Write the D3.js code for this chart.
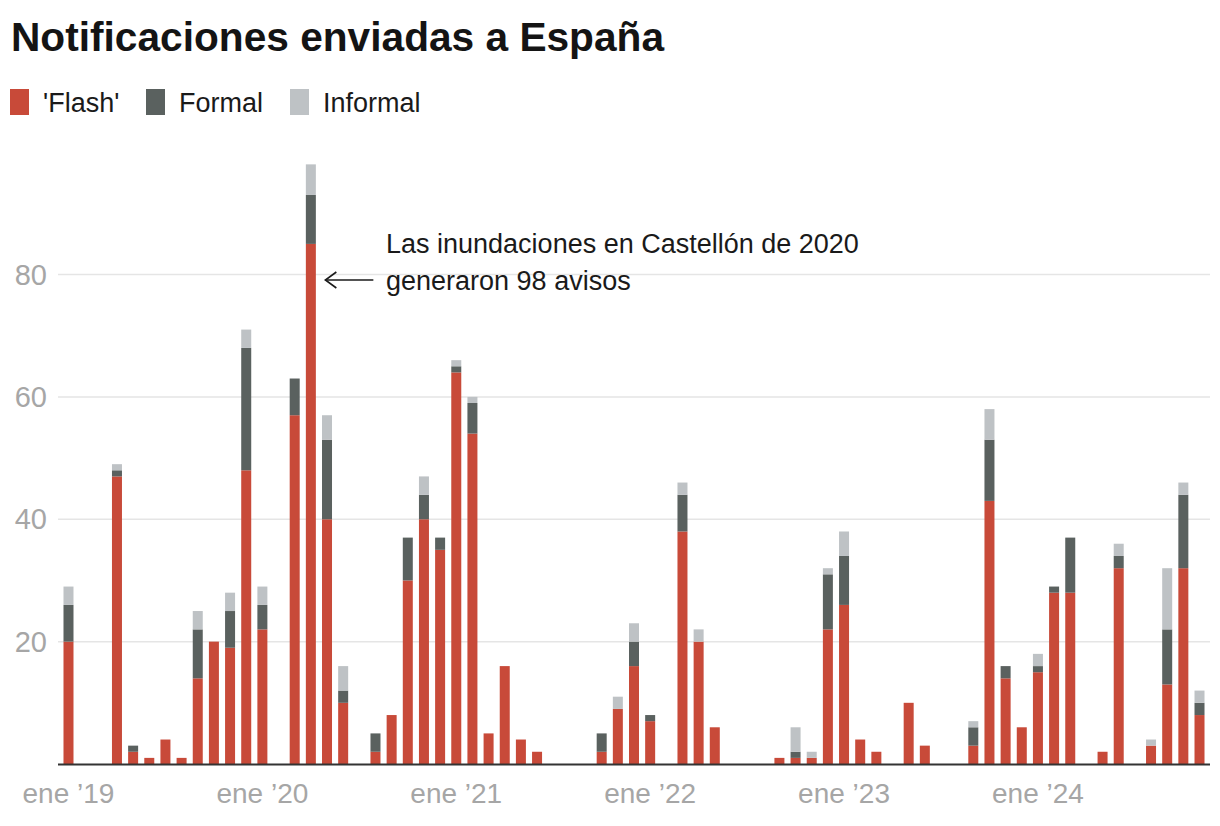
<!DOCTYPE html>
<html>
<head>
<meta charset="utf-8">
<script src="https://cdn.jsdelivr.net/npm/d3@7"></script>
<style>
  html, body { margin: 0; padding: 0; background: #fff; }
  svg { display: block; }
</style>
</head>
<body>
<svg id="chart" width="1220" height="826"></svg>
<script>
// Months Jan 2019 – Nov 2024
const months = d3.range(71).map(i => {
  const y = 2019 + Math.floor(i / 12), m = i % 12;
  return `${y}-${String(m + 1).padStart(2, "0")}`;
});

const flash = [
  20, 0, 0, 47, 2, 1, 4, 1, 14, 20, 19, 48,
  22, 0, 57, 85, 40, 10, 0, 2, 8, 30, 40, 35,
  64, 54, 5, 16, 4, 2, 0, 0, 0, 2, 9, 16,
  7, 0, 38, 20, 6, 0, 0, 0, 1, 1, 1, 22,
  26, 4, 2, 0, 10, 3, 0, 0, 3, 43, 14, 6,
  15, 28, 28, 0, 2, 32, 0, 3, 13, 32, 8
];
const formal = [
  6, 0, 0, 1, 1, 0, 0, 0, 8, 0, 6, 20,
  4, 0, 6, 8, 13, 2, 0, 3, 0, 7, 4, 2,
  1, 5, 0, 0, 0, 0, 0, 0, 0, 3, 0, 4,
  1, 0, 6, 0, 0, 0, 0, 0, 0, 1, 0, 9,
  8, 0, 0, 0, 0, 0, 0, 0, 3, 10, 2, 0,
  1, 1, 9, 0, 0, 2, 0, 0, 9, 12, 2
];
const informal = [
  3, 0, 0, 1, 0, 0, 0, 0, 3, 0, 3, 3,
  3, 0, 0, 5, 4, 4, 0, 0, 0, 0, 3, 0,
  1, 1, 0, 0, 0, 0, 0, 0, 0, 0, 2, 3,
  0, 0, 2, 2, 0, 0, 0, 0, 0, 4, 1, 1,
  4, 0, 0, 0, 0, 0, 0, 0, 1, 5, 0, 0,
  2, 0, 0, 0, 0, 2, 0, 1, 10, 2, 2
];

const seriesKeys = ["flash", "formal", "informal"];
const seriesNames = ["'Flash'", "Formal", "Informal"];
const seriesColors = ["#c84a39", "#5a615f", "#bec2c5"];

const yTicks = [20, 40, 60, 80];
const xTickMonths = ["2019-01", "2020-01", "2021-01", "2022-01", "2023-01", "2024-01"];
const xTickLabels = ["ene ’19", "ene ’20", "ene ’21", "ene ’22", "ene ’23", "ene ’24"];

const titleText = "Notificaciones enviadas a España";
const noteLines = ["Las inundaciones en Castellón de 2020", "generaron 98 avisos"];
const noteMonth = "2020-04";

// ---- build table
const table = months.map((m, i) => ({ month: m, flash: flash[i], formal: formal[i], informal: informal[i] }));
const stacked = d3.stack().keys(seriesKeys)(table);

const svg = d3.select("#chart");
const font = "'Liberation Sans', Arial, sans-serif";

const x = d3.scaleBand().domain(months).range([58, 1210]).paddingInner(0.381).paddingOuter(0.34);
const y = d3.scaleLinear().domain([0, 80]).range([764, 274.5]);

// gridlines
svg.append("g").selectAll("line").data(yTicks).join("line")
  .attr("x1", 58).attr("x2", 1210)
  .attr("y1", d => y(d)).attr("y2", d => y(d))
  .attr("stroke", "#e5e5e5").attr("stroke-width", 1.5);

// y labels
svg.append("g").selectAll("text").data(yTicks).join("text")
  .attr("x", 47).attr("y", d => y(d) + 10)
  .attr("text-anchor", "end")
  .attr("font-family", font).attr("font-size", 29).attr("fill", "#a6a6a6")
  .text(d => d);

// bars
svg.append("g").selectAll("g").data(stacked).join("g")
  .attr("fill", (d, i) => seriesColors[i])
  .selectAll("rect").data(d => d.filter(s => s[1] - s[0] > 0)).join("rect")
  .attr("x", d => x(d.data.month))
  .attr("width", x.bandwidth())
  .attr("y", d => y(d[1]))
  .attr("height", d => y(d[0]) - y(d[1]));

// baseline
svg.append("line")
  .attr("x1", 58).attr("x2", 1210)
  .attr("y1", y(0) + 0.5).attr("y2", y(0) + 0.5)
  .attr("stroke", "#333").attr("stroke-width", 2);

// x labels
svg.append("g").selectAll("text").data(xTickMonths).join("text")
  .attr("x", d => x(d) + x.bandwidth() / 2)
  .attr("y", 803)
  .attr("text-anchor", "middle")
  .attr("font-family", font).attr("font-size", 28).attr("fill", "#a6a6a6")
  .text((d, i) => xTickLabels[i]);

// title
svg.append("text")
  .attr("x", 11).attr("y", 51)
  .attr("font-family", font).attr("font-weight", "bold")
  .attr("font-size", 40.5).attr("fill", "#141414")
  .attr("textLength", 653).attr("lengthAdjust", "spacingAndGlyphs")
  .text(titleText);

// legend
const legendX = [10, 146, 290];
const lg = svg.append("g").selectAll("g").data(seriesNames).join("g")
  .attr("transform", (d, i) => `translate(${legendX[i]},89)`);
lg.append("rect").attr("width", 19).attr("height", 26).attr("fill", (d, i) => seriesColors[i]);
lg.append("text").attr("x", 33).attr("y", 23)
  .attr("font-family", font).attr("font-size", 27).attr("fill", "#1a1a1a")
  .text(d => d);

// annotation
const tipX = x(noteMonth) + x.bandwidth() + 9.5;
const arrowY = 280;
const ann = svg.append("g").attr("stroke", "#1a1a1a").attr("stroke-width", 1.6).attr("fill", "none");
ann.append("line").attr("x1", tipX).attr("x2", tipX + 48).attr("y1", arrowY).attr("y2", arrowY);
ann.append("path").attr("d", `M${tipX + 11},${arrowY - 8} L${tipX},${arrowY} L${tipX + 11},${arrowY + 8}`);
svg.append("g").selectAll("text").data(noteLines).join("text")
  .attr("x", 386).attr("y", (d, i) => 253 + i * 37)
  .attr("font-family", font).attr("font-size", 27).attr("fill", "#1a1a1a")
  .text(d => d);
</script>
</body>
</html>
